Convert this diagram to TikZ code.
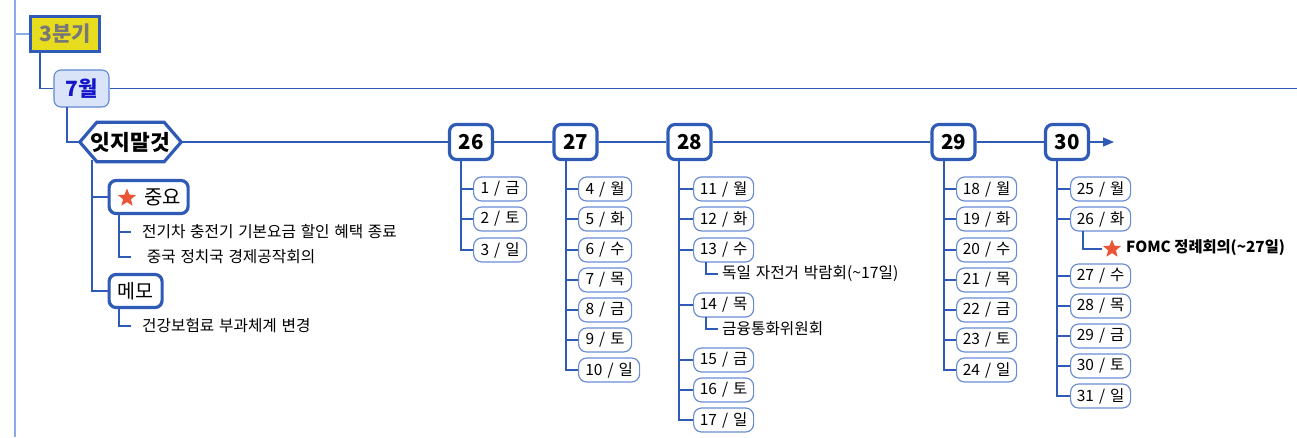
\documentclass[tikz,border=0pt]{standalone}
\usepackage{fontspec}
\setmainfont{Noto Sans CJK KR}
\usetikzlibrary{shapes.geometric,calc,arrows.meta}
\definecolor{mainblue}{RGB}{47,91,183}
\definecolor{pillblue}{RGB}{105,140,214}
\definecolor{lightline}{RGB}{140,170,232}
\definecolor{qyellow}{RGB}{232,220,30}
\definecolor{qgray}{RGB}{120,120,120}
\definecolor{mfill}{RGB}{218,228,248}
\definecolor{mborder}{RGB}{95,135,212}
\definecolor{mtext}{RGB}{20,20,200}
\definecolor{starred}{RGB}{235,85,55}
\newcommand{\dayslash}{\hspace{0.32em}/\hspace{0.32em}}
\newcommand{\widespaces}{\spaceskip=0.3em\relax}
\begin{document}
\begin{tikzpicture}[x=1pt,y=-1pt,
  conn/.style={draw=mainblue,line width=1.2pt},
  daybox/.style={draw=mainblue,line width=3.2pt,rounded corners=7pt,fill=white,minimum width=43pt,minimum height=35pt,inner sep=0pt,font=\bfseries\fontsize{20.5}{22}\selectfont},
  pill/.style={draw=pillblue,line width=1.2pt,rounded corners=8pt,fill=white,minimum height=24pt,minimum width=53pt,inner xsep=4pt,inner ysep=0pt,anchor=west,font=\fontsize{15.5}{17}\selectfont},
  wpill/.style={pill,minimum width=60pt},
  bigbox/.style={draw=mainblue,line width=3.2pt,rounded corners=7pt,fill=white,minimum height=33pt,inner sep=0pt},
  subtext/.style={anchor=west,inner xsep=4pt,font=\fontsize{15.7}{17}\selectfont\widespaces},
  leftsub/.style={subtext,inner xsep=11pt},
  starnode/.style={star,star points=5,star point ratio=2.3,fill=starred,minimum size=19pt,inner sep=0pt}]
\useasboundingbox (0,0) rectangle (1297,437);
% left rail
\coordinate (railtop) at (15,0);
\coordinate (railbot) at (15,437);
\draw[draw=lightline,line width=1.4pt] (railtop) -- (railbot);
% quarter
\node[draw=mainblue,line width=3.4pt,fill=qyellow,minimum width=69pt,minimum height=35pt,inner sep=0pt,
  text=qgray,font=\bfseries\fontsize{21}{23}\selectfont] (q3) at (65,34) {3분기};
\draw[draw=lightline,line width=1.4pt] (q3.west -| railtop) -- (q3.west);
% month
\node[draw=mborder,line width=1.1pt,fill=mfill,rounded corners=7pt,minimum width=55pt,minimum height=37pt,inner sep=0pt,
  text=mtext,font=\bfseries\fontsize{21}{23}\selectfont] (m7) at (81.5,88.5) {7월};
\coordinate (q3v) at (40,53);
\draw[conn] (q3v) |- (m7.west);
\coordinate (edge) at (1297,88.5);
\draw[conn] (m7.east) -- (edge);
% hexagon
\node[minimum width=101pt,minimum height=39pt,inner sep=0pt] (hx) at (130.5,142) {};
\draw[draw=mainblue,line width=3.2pt,line join=miter,fill=white] (hx.west) -- ($(hx.north west)+(17,0)$) -- ($(hx.north east)+(-17,0)$) -- (hx.east) -- ($(hx.south east)+(-17,0)$) -- ($(hx.south west)+(17,0)$) -- cycle;
\node[font=\bfseries\fontsize{21.5}{23}\selectfont] (hxt) at (hx.center) {잇지말것};
\coordinate (m7v) at (67,107);
\draw[conn] (m7v) |- (hx.west);
% day boxes
\node[daybox] (d26) at (471,142) {26};
\node[daybox] (d27) at (575.5,142) {27};
\node[daybox] (d28) at (689.5,142) {28};
\node[daybox] (d29) at (953.5,142) {29};
\node[daybox] (d30) at (1067,142) {30};
\coordinate (arrowend) at (1114,142);
\draw[conn] (hx.east) -- (d26.west);
\draw[conn] (d26.east) -- (d27.west);
\draw[conn] (d27.east) -- (d28.west);
\draw[conn] (d28.east) -- (d29.west);
\draw[conn] (d29.east) -- (d30.west);
\draw[conn,-{Triangle[length=11pt,width=9pt]}] (d30.east) -- (arrowend);
% column 26
\coordinate (v26) at (461,160);
\foreach \y/\d/\w in {189/1/금,219/2/토,250/3/일}{
  \node[pill] (p\d) at (473,\y) {\d\dayslash\w};
  \draw[conn] (v26) |- (p\d.west);
}
% column 27
\coordinate (v27) at (566,160);
\foreach \y/\d/\w in {189/4/월,219/5/화,250/6/수,280/7/목,310/8/금,340/9/토}{
  \node[pill] (p\d) at (578,\y) {\d\dayslash\w};
  \draw[conn] (v27) |- (p\d.west);
}
\node[wpill,minimum width=61pt] (p10) at (578,370) {10\dayslash 일};
\draw[conn] (v27) |- (p10.west);
% column 28
\coordinate (v28) at (679,160);
\foreach \y/\d/\w in {189/11/월,219/12/화,250/13/수,305/14/목,360/15/금,390/16/토,420/17/일}{
  \node[wpill] (p\d) at (693,\y) {\d\dayslash\w};
  \draw[conn] (v28) |- (p\d.west);
}
\node[subtext] (s13) at (718,274) {독일 자전거 박람회(\textasciitilde17일)};
\coordinate (c13) at (706,262);
\draw[conn] (c13) |- (s13.west);
\node[subtext] (s14) at (718,329) {금융통화위원회};
\coordinate (c14) at (706,317);
\draw[conn] (c14) |- (s14.west);
% column 29
\coordinate (v29) at (944,160);
\foreach \y/\d/\w in {189/18/월,219/19/화,250/20/수,280/21/목,310/22/금,340/23/토,370/24/일}{
  \node[wpill] (p\d) at (956,\y) {\d\dayslash\w};
  \draw[conn] (v29) |- (p\d.west);
}
% column 30
\coordinate (v30) at (1057,160);
\foreach \y/\d/\w in {189/25/월,219/26/화,276/27/수,306/28/목,336/29/금,366/30/토,396/31/일}{
  \node[wpill] (p\d) at (1070,\y) {\d\dayslash\w};
  \draw[conn] (v30) |- (p\d.west);
}
\node[starnode] (st2) at (1112,249) {};
\node[anchor=west,inner xsep=2pt,font=\bfseries\fontsize{15.3}{17}\selectfont] (fomc) at (1124,248) {FOMC 정례회의(\textasciitilde27일)};
\coordinate (c26) at (1083,231);
\draw[conn] (c26) |- ($(st2.west)+(-4,0)$);
% left memo part
\node[bigbox,minimum width=79pt,anchor=west] (imp) at (107.5,197) {};
\node[starnode] (st1) at (127,198) {};
\node[anchor=west,inner sep=0pt,font=\fontsize{20}{22}\selectfont] (impt) at (144,197) {중요};
\node[bigbox,minimum width=53pt,anchor=west,font=\fontsize{19.5}{21}\selectfont] (memo) at (107.5,291) {메모};
\coordinate (hxv) at (92,160);
\draw[conn] (hxv) |- (imp.west);
\draw[conn] (hxv) |- (memo.west);
\node[leftsub] (s1) at (131,232) {전기차 충전기 기본요금 할인 혜택 종료};
\node[leftsub] (s2) at (131,257) {\ 중국 정치국 경제공작회의};
\coordinate (impv) at (119,215);
\draw[conn] (impv) |- (s1.west);
\draw[conn] (impv) |- (s2.west);
\node[leftsub] (s3) at (131,326) {건강보험료 부과체계 변경};
\coordinate (memov) at (119,309);
\draw[conn] (memov) |- (s3.west);
\end{tikzpicture}
\end{document}
